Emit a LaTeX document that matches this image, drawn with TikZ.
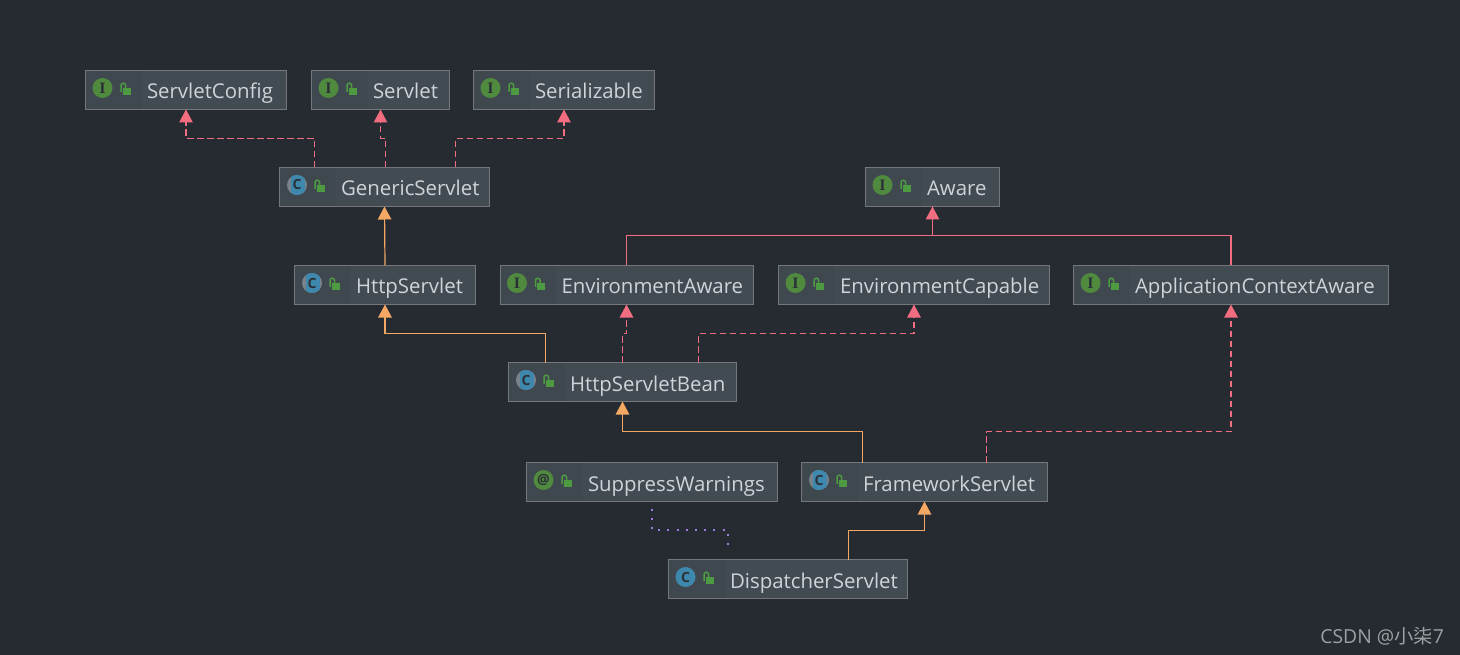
\documentclass[tikz,border=0pt]{standalone}
\usepackage{fontspec}
\setmainfont{Open Sans}
\newfontfamily\cjkfont{Noto Sans CJK SC}
\newfontfamily\glyphserif{Liberation Serif}
\usetikzlibrary{arrows.meta}
\definecolor{canvas}{HTML}{262A31}
\definecolor{boxfill}{HTML}{434B52}
\definecolor{boxhead}{HTML}{40484F}
\definecolor{boxline}{HTML}{74787B}
\definecolor{boxtext}{HTML}{CDD4DA}
\definecolor{ifacegreen}{HTML}{4F8A3E}
\definecolor{classblue}{HTML}{3D88AC}
\definecolor{ringgrey}{HTML}{79828A}
\definecolor{lockgreen}{HTML}{4E9A43}
\definecolor{glyphdark}{HTML}{2B3036}
\definecolor{implpink}{HTML}{F26D80}
\definecolor{extorange}{HTML}{F5A864}
\definecolor{notepurple}{HTML}{A07FDC}
\newcommand{\glyphI}{\fontsize{16pt}{16pt}\glyphserif\bfseries\selectfont I}
\newcommand{\glyphC}{\fontsize{14pt}{14pt}\bfseries\selectfont C}
\newcommand{\glyphAt}{\fontsize{14pt}{14pt}\bfseries\selectfont @}
\tikzset{
  umlbox/.style={draw=boxline, fill=boxfill, line width=1pt, outer sep=0pt, minimum width=#1-1pt, minimum height=39pt,
    text width=#1-1pt, inner xsep=0pt, inner ysep=0pt, text height=21pt, text depth=3pt, align=left, text=boxtext,
    font=\fontsize{20.4pt}{24pt}\selectfont, execute at begin node=\hspace*{61.5pt},
    path picture={\fill[boxhead] (path picture bounding box.north west) rectangle
      ([xshift=56pt]path picture bounding box.south west);}},
  implements/.style={draw=implpink, dash pattern=on 6.5pt off 3.5pt, line width=1.2pt,
    -{Triangle[width=13.5pt,length=13pt]}},
  realizes/.style={draw=implpink, line width=1.2pt},
  extends/.style={draw=extorange, line width=1.2pt, -{Triangle[width=13.5pt,length=13pt]}},
  pics/locksign/.style={code={
    \fill[lockgreen] (37pt,-5pt) rectangle (45pt,2pt);
    \draw[lockgreen, line width=1.5pt] (35.5pt,-2pt) -- (35.5pt,4.5pt) arc (180:0:2.3pt) -- (40.1pt,2pt);
  }},
  pics/umlicon/.style 2 args={code={
    \fill[#1] (17pt,2pt) circle (10pt);
    \node[text=glyphdark, inner sep=0pt] (-glyph) at (17pt,2pt) {#2};
    \pic (-lock) {locksign};
  }},
  pics/abstracticon/.style={code={
    \fill[ringgrey] (17.5pt,2pt) circle (10pt);
    \begin{scope}
      \clip (17.5pt,2pt) circle (10pt);
      \fill[classblue] (11pt,-10pt) rectangle (25pt,14pt);
    \end{scope}
    \node[text=glyphdark, inner sep=0pt] (-glyph) at (17.5pt,2pt) {\glyphC};
    \pic (-lock) {locksign};
  }}
}
\begin{document}
\begin{tikzpicture}[x=1pt, y=-1pt]
  \fill[canvas] (0,0) rectangle (1460,655);
  \useasboundingbox (0,0) rectangle (1460,655);

  % interfaces on top
  \node[umlbox=202pt] (ServletConfig) at (186,90) {ServletConfig};
  \node[umlbox=139pt] (Servlet) at (380.5,90) {Servlet};
  \node[umlbox=182pt] (Serializable) at (564,90) {Serializable};
  \node[umlbox=135pt] (Aware) at (932.5,187) {Aware};
  \node[umlbox=254pt] (EnvironmentAware) at (626.5,285) {EnvironmentAware};
  \node[umlbox=272pt] (EnvironmentCapable) at (914,285) {EnvironmentCapable};
  \node[umlbox=316pt] (ApplicationContextAware) at (1231,285) {ApplicationContextAware};
  \node[umlbox=252pt] (SuppressWarnings) at (652,482) {SuppressWarnings};

  % classes
  \node[umlbox=211pt] (GenericServlet) at (384.5,187) {GenericServlet};
  \node[umlbox=182pt] (HttpServlet) at (385,285) {HttpServlet};
  \node[umlbox=229pt] (HttpServletBean) at (622.5,382) {HttpServletBean};
  \node[umlbox=247pt] (FrameworkServlet) at (924.5,482) {FrameworkServlet};
  \node[umlbox=240pt] (DispatcherServlet) at (788,579) {DispatcherServlet};

  % icons
  \pic (iconServletConfig) at (ServletConfig.west) {umlicon={ifacegreen}{\glyphI}};
  \pic (iconServlet) at (Servlet.west) {umlicon={ifacegreen}{\glyphI}};
  \pic (iconSerializable) at (Serializable.west) {umlicon={ifacegreen}{\glyphI}};
  \pic (iconAware) at (Aware.west) {umlicon={ifacegreen}{\glyphI}};
  \pic (iconEnvironmentAware) at (EnvironmentAware.west) {umlicon={ifacegreen}{\glyphI}};
  \pic (iconEnvironmentCapable) at (EnvironmentCapable.west) {umlicon={ifacegreen}{\glyphI}};
  \pic (iconApplicationContextAware) at (ApplicationContextAware.west) {umlicon={ifacegreen}{\glyphI}};
  \pic (iconSuppressWarnings) at (SuppressWarnings.west) {umlicon={ifacegreen}{\glyphAt}};
  \pic (iconGenericServlet) at (GenericServlet.west) {abstracticon};
  \pic (iconHttpServlet) at (HttpServlet.west) {abstracticon};
  \pic (iconHttpServletBean) at (HttpServletBean.west) {abstracticon};
  \pic (iconFrameworkServlet) at (FrameworkServlet.west) {abstracticon};
  \pic (iconDispatcherServlet) at (DispatcherServlet.west) {umlicon={classblue}{\glyphC}};

  % GenericServlet up to its interfaces
  \draw[implements] ([xshift=35pt]GenericServlet.north west) -- ++(0,-29) -| (ServletConfig.south);
  \draw[implements] ([xshift=106pt]GenericServlet.north west) -- ++(0,-29) -| (Servlet.south);
  \draw[implements] ([xshift=176pt]GenericServlet.north west) -- ++(0,-29) -| (Serializable.south);
  \draw[extends] (HttpServlet.north) -- (GenericServlet.south);

  % Aware family
  \draw[realizes] (EnvironmentAware.north) -- ++(0,-30) -| (Aware.south);
  \draw[realizes, -{Triangle[width=13.5pt,length=13pt]}] (ApplicationContextAware.north) -- ++(0,-30) -| (Aware.south);

  % HttpServletBean
  \draw[extends] ([xshift=37pt]HttpServletBean.north west) -- ++(0,-29) -| (HttpServlet.south);
  \draw[implements] ([xshift=114pt]HttpServletBean.north west) -- ++(0,-29) -| (EnvironmentAware.south);
  \draw[implements] ([xshift=190pt]HttpServletBean.north west) -- ++(0,-29) -| (EnvironmentCapable.south);

  % FrameworkServlet
  \draw[extends] ([xshift=61pt]FrameworkServlet.north west) -- ++(0,-31) -| (HttpServletBean.south);
  \draw[implements] ([xshift=185pt]FrameworkServlet.north west) -- ++(0,-31) -| (ApplicationContextAware.south);

  % DispatcherServlet
  \draw[extends] ([xshift=180pt]DispatcherServlet.north west) -- ++(0,-29) -| (FrameworkServlet.south);
  \draw[notepurple, line width=2pt, dash pattern=on 2pt off 7.2pt, shorten >=7pt, shorten <=7pt]
    (SuppressWarnings.south) -- ++(0,28.5) -| ([xshift=59pt]DispatcherServlet.north west);

  \node[text=boxline!70!white, font=\fontsize{19.3pt}{22pt}\selectfont, anchor=east, inner sep=0pt] (watermark)
    at (1444,636) {CSDN @{\cjkfont 小柒}7};
\end{tikzpicture}
\end{document}
